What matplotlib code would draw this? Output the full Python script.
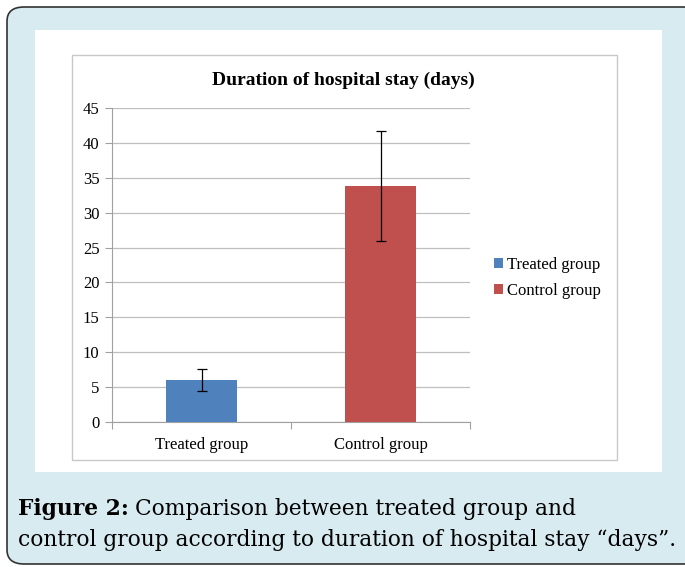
import matplotlib.pyplot as plt
from matplotlib.patches import FancyBboxPatch, Rectangle

# data
groups = ["Treated group", "Control group"]
days = [6.0, 33.8]
errors = [1.6, 7.9]
colors = ["#4f81bd", "#c0504d"]
yticks = [0, 5, 10, 15, 20, 25, 30, 35, 40, 45]

W, H = 685, 567


def fx(px):
    return px / W


def fy(py):
    return 1 - py / H


fig = plt.figure(figsize=(W / 100, H / 100), dpi=100)
fig.patch.set_facecolor("white")

# rounded light-blue frame
fig.patches.append(FancyBboxPatch((fx(7), fy(564)), fx(700) - fx(7), fy(7) - fy(564),
                                  boxstyle="round,pad=0,rounding_size=0.025",
                                  transform=fig.transFigure, facecolor="#d7ebf0",
                                  edgecolor="#333333", linewidth=1.2, zorder=0))
# white panel
fig.patches.append(Rectangle((fx(35), fy(472)), fx(662) - fx(35), fy(30) - fy(472),
                             transform=fig.transFigure, facecolor="white",
                             edgecolor="none", zorder=1))
# chart border
fig.patches.append(Rectangle((fx(72), fy(460)), fx(617) - fx(72), fy(55) - fy(460),
                             transform=fig.transFigure, facecolor="none",
                             edgecolor="#c8c8c8", linewidth=1.0, zorder=2))

ax = fig.add_axes([fx(112), fy(422), fx(470) - fx(112), fy(108) - fy(422)])
ax.set_facecolor("none")
ax.set_zorder(3)

x = [0, 1]
bars = ax.bar(x, days, width=0.4, color=colors, zorder=3)
ax.errorbar(x, days, yerr=errors, fmt="none", ecolor="black", elinewidth=0.9,
            capsize=3.5, capthick=0.9, zorder=4)

ax.set_xlim(-0.5, 1.5)
ax.set_ylim(0, 45)
ax.set_yticks(yticks)
ax.yaxis.grid(True, color="#bfbfbf", linewidth=0.9)
ax.set_axisbelow(True)

for s in ["top", "right"]:
    ax.spines[s].set_visible(False)
ax.spines["left"].set_color("#a0a0a0")
ax.spines["bottom"].set_color("#a0a0a0")

serif = "Liberation Serif"
ax.set_yticklabels([str(v) for v in yticks], fontname=serif, fontsize=12)
ax.tick_params(axis="y", length=5, color="#a0a0a0", pad=4)

# category labels with ticks at the category borders
ax.set_xticks([-0.5, 0.5, 1.5])
ax.set_xticklabels([])
ax.tick_params(axis="x", length=5, color="#a0a0a0")
for xi, g in zip(x, groups):
    ax.text(xi, -2.2, g, ha="center", va="top", fontname=serif, fontsize=12)

fig.text(fx(343), fy(80), "Duration of hospital stay (days)", ha="center", va="center",
         fontname=serif, fontsize=14, fontweight="bold")

# legend
leg = ax.legend(bars, groups, loc="center left", bbox_to_anchor=(fx(479), fy(278)),
                bbox_transform=fig.transFigure, frameon=False,
                prop={"family": serif, "size": 12}, handlelength=0.55, handleheight=0.55,
                handletextpad=0.25, labelspacing=0.62)

# caption, sized so the second line spans the same width as the reference
cap_font = "DejaVu Serif"
line2 = fig.text(fx(18), fy(540),
                 "control group according to duration of hospital stay \u201cdays\u201d.",
                 ha="left", va="center", fontname=cap_font, fontsize=15)
renderer = fig.canvas.get_renderer()
cap_size = 15 * 660 / line2.get_window_extent(renderer).width
line2.set_fontsize(cap_size)
bold = fig.text(fx(18), fy(509), "Figure 2:", ha="left", va="center", fontname=cap_font,
                fontsize=cap_size, fontweight="bold")
bb = bold.get_window_extent(renderer)
fig.text(bb.x1 / W + fx(6), fy(509), "Comparison between treated group and", ha="left",
         va="center", fontname=cap_font, fontsize=cap_size)

fig.savefig("out.png", dpi=100, facecolor=fig.get_facecolor())
